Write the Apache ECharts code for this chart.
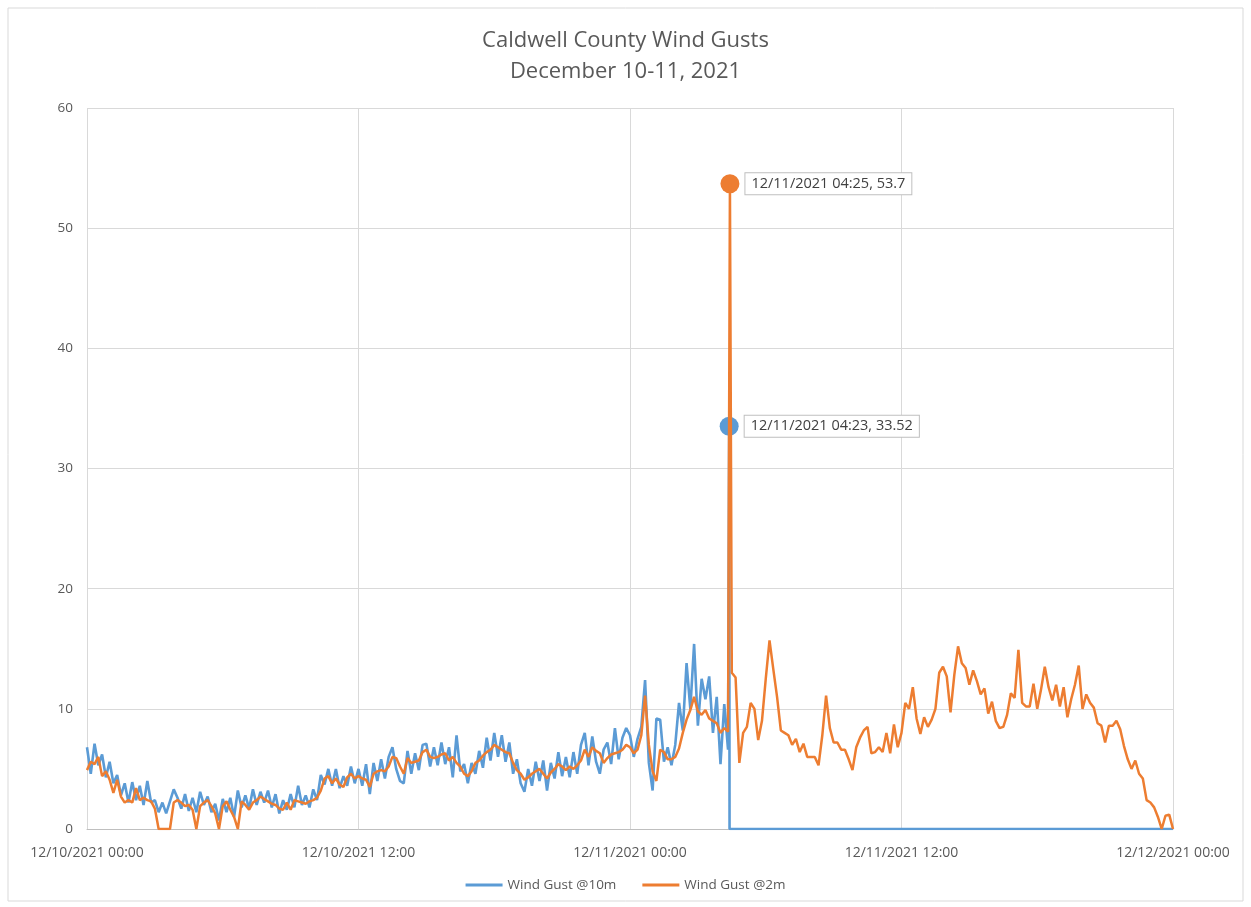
<!DOCTYPE html>
<html>
<head>
<meta charset="utf-8">
<script src="https://cdn.jsdelivr.net/npm/echarts@6/dist/echarts.min.js"></script>
<style>
  html, body { margin: 0; padding: 0; background: #fff; }
  #main { width: 1251px; height: 907px; }
</style>
</head>
<body>
<div id="main"></div>
<script>
// x values are minutes from 12/10/2021 00:00, one reading every 10 minutes
const tickLabels = ['12/10/2021 00:00', '12/10/2021 12:00', '12/11/2021 00:00', '12/11/2021 12:00', '12/12/2021 00:00'];

// Wind Gust @10m, 12/10 00:00 .. 12/11 04:20
const gust10m = [
  6.8, 4.6, 7.1, 5.3, 6.2, 4.3,
  5.6, 3.8, 4.5, 2.8, 3.8, 2.2,
  3.9, 2.4, 3.6, 2.0, 4.0, 2.2,
  2.4, 1.4, 2.2, 1.3, 2.3, 3.3,
  2.6, 1.7, 2.9, 1.5, 2.6, 1.4,
  3.1, 2.0, 2.7, 1.4, 2.1, 0.7,
  2.5, 1.4, 2.6, 1.0, 3.2, 1.8,
  2.8, 1.7, 3.3, 2.0, 3.1, 2.2,
  3.2, 1.8, 2.9, 1.3, 2.4, 1.6,
  2.9, 1.8, 3.6, 2.0, 2.8, 1.8,
  3.3, 2.4, 4.5, 3.7, 5.0, 3.6,
  5.0, 3.4, 4.4, 3.6, 5.2, 3.8,
  5.0, 3.6, 5.4, 2.9, 5.5, 4.0,
  5.8, 4.2, 6.0, 6.8, 5.0, 4.0,
  3.8, 6.5, 4.6, 6.3, 4.9, 7.0,
  7.1, 5.2, 6.8, 5.3, 7.2, 5.4,
  6.8, 4.3, 7.8, 4.8, 5.4, 3.8,
  5.5, 4.6, 6.5, 5.1, 7.6, 5.7,
  8.0, 6.0, 7.8, 5.6, 7.2, 4.6,
  5.8, 3.8, 3.1, 5.0, 3.6, 5.6,
  4.0, 5.7, 3.2, 5.5, 4.2, 6.4,
  4.4, 6.0, 4.3, 6.4, 4.6, 7.0,
  8.0, 5.3, 7.7, 5.6, 4.6, 6.6,
  7.2, 5.4, 8.4, 5.8, 7.6, 8.4,
  7.8, 6.0, 7.5, 8.5, 12.4, 5.5,
  3.2, 9.2, 9.1, 5.6, 6.8, 5.3,
  7.0, 10.5, 8.2, 13.8, 10.0, 15.4,
  8.6, 12.5, 10.8, 12.7, 8.0, 11.0,
  5.4, 10.4, 6.6
];
// readings after the 10m sensor stopped
const gust10mTail = [[1703, 33.52], [1704, 0], [2880, 0]];

// Wind Gust @2m, 12/10 00:00 .. 12/12 00:00
const gust2m = [
  4.9, 5.6, 5.4, 6.0, 4.4, 4.8,
  4.1, 3.0, 4.1, 2.7, 2.2, 2.4,
  2.2, 3.4, 2.4, 2.6, 2.4, 2.3,
  1.7, 0, 0, 0, 0, 2.2,
  2.4, 2.2, 1.9, 2.0, 1.6, 0,
  1.9, 2.2, 2.4, 1.9, 1.3, 0,
  1.9, 2.3, 1.6, 1.0, 0, 2.3,
  2.0, 1.6, 2.2, 2.4, 2.7, 2.5,
  2.3, 2.1, 2.0, 1.7, 1.6, 2.2,
  1.6, 2.4, 2.3, 2.2, 2.1, 2.3,
  2.4, 2.6, 3.2, 4.2, 4.4, 3.8,
  4.2, 3.7, 3.5, 4.3, 4.6, 4.2,
  4.4, 4.2, 4.1, 3.5, 4.6, 4.8,
  4.9, 4.8, 5.2, 6.0, 5.9, 5.2,
  4.6, 5.9, 5.5, 5.6, 5.7, 6.4,
  6.6, 6.0, 5.9, 6.0, 6.2, 6.3,
  5.7, 6.0, 5.5, 5.2, 4.6, 4.4,
  4.8, 5.5, 5.7, 6.1, 6.4, 6.6,
  7.0, 6.8, 6.6, 6.4, 6.3, 5.5,
  4.9, 4.6, 4.1, 4.3, 4.6, 4.8,
  5.0, 4.6, 4.2, 4.7, 5.0, 5.4,
  5.2, 4.9, 5.2, 5.0, 5.3, 5.7,
  6.6, 6.0, 6.8, 6.5, 6.3, 5.5,
  5.9, 6.2, 6.3, 6.4, 6.6, 7.0,
  6.8, 6.3, 6.6, 7.8, 11.1, 7.0,
  4.8, 4.0, 6.6, 6.4, 5.8, 5.8,
  6.0, 6.7, 8.0, 9.1, 9.9, 11.0,
  9.8, 9.5, 9.9, 9.2, 9.0, 8.8,
  8.0, 8.4, 8.1, 13.0, 12.6, 5.5,
  8.0, 8.5, 10.5, 10.0, 7.4, 9.0,
  12.5, 15.7, 13.3, 11.0, 8.2, 8.0,
  7.8, 7.0, 7.5, 6.4, 7.1, 6.0,
  6.0, 6.0, 5.3, 7.8, 11.1, 8.4,
  7.2, 7.2, 6.6, 6.6, 5.8, 4.9,
  6.8, 7.6, 8.2, 8.5, 6.3, 6.4,
  6.8, 6.4, 8.0, 6.3, 8.7, 6.8,
  8.0, 10.5, 10.0, 11.8, 9.2, 7.9,
  9.3, 8.5, 9.1, 10.0, 13.0, 13.5,
  12.7, 9.7, 12.8, 15.2, 13.8, 13.4,
  12.0, 13.2, 12.3, 11.2, 11.7, 9.6,
  10.6, 9.0, 8.4, 8.5, 9.5, 11.3,
  10.9, 14.9, 10.5, 10.2, 10.2, 12.1,
  10.0, 11.6, 13.5, 11.8, 10.7, 12.0,
  10.2, 11.8, 9.3, 10.8, 12.0, 13.6,
  10.0, 11.2, 10.5, 10.1, 8.8, 8.6,
  7.2, 8.6, 8.6, 9.0, 8.3, 6.9,
  5.8, 5.0, 5.7, 4.6, 4.2, 2.4,
  2.2, 1.8, 1.0, 0, 1.1, 1.2,
  0
];
const gust2mPeak = [1705, 53.7];

// labelled maxima
const peakNames = ['12/11/2021 04:23', '12/11/2021 04:25'];
const peakValues = [33.52, 53.7];
const peakMinutes = [1703, 1705];

const blue = '#5B9BD5';
const orange = '#ED7D31';
const textGray = '#595959';

function byMinute(a, b) { return a[0] - b[0]; }

const data10m = gust10m.map((v, i) => [i * 10, v]).concat(gust10mTail).sort(byMinute);
const data2m = gust2m.map((v, i) => [i * 10, v]).concat([gust2mPeak]).sort(byMinute);

function peakSeries(idx, color) {
  return {
    name: 'peak' + idx,
    type: 'scatter',
    symbolSize: 19,
    itemStyle: { color: color, opacity: 1 },
    data: [[peakMinutes[idx], peakValues[idx]]],
    label: {
      show: true,
      position: 'right',
      distance: 6,
      formatter: () => peakNames[idx] + ', ' + peakValues[idx],
      color: '#404040',
      fontSize: 14.5,
      fontFamily: 'Open Sans',
      backgroundColor: '#fff',
      borderColor: '#bfbfbf',
      borderWidth: 1,
      padding: [3, 6, 3, 6]
    },
    silent: true
  };
}

let myChart = echarts.init(document.getElementById('main'));

let options = {
  animation: false,
  backgroundColor: '#fff',
  textStyle: { fontFamily: 'Open Sans' },
  title: {
    text: 'Caldwell County Wind Gusts\nDecember 10-11, 2021',
    left: 'center',
    top: 20,
    textStyle: { color: textGray, fontSize: 22, fontWeight: 'normal', lineHeight: 31, fontFamily: 'Open Sans' }
  },
  graphic: [{
    type: 'rect',
    shape: { x: 8, y: 8, width: 1235, height: 893 },
    style: { fill: 'none', stroke: '#d9d9d9', lineWidth: 1 },
    silent: true
  }],
  legend: {
    data: ['Wind Gust @10m', 'Wind Gust @2m'],
    bottom: 10,
    left: 'center',
    icon: 'rect',
    itemWidth: 37,
    itemHeight: 3,
    itemGap: 26,
    textStyle: { color: textGray, fontSize: 13.5 }
  },
  grid: { left: 87, right: 78, top: 108, bottom: 78 },
  xAxis: {
    type: 'value',
    min: 0,
    max: 2880,
    interval: 720,
    axisLine: { show: true, lineStyle: { color: '#bfbfbf', width: 1 } },
    axisTick: { show: false },
    splitLine: { show: true, lineStyle: { color: '#d9d9d9', width: 1 } },
    axisLabel: {
      color: textGray,
      fontSize: 14,
      margin: 17,
      formatter: (v) => tickLabels[Math.round(v / 720)],
      showMinLabel: true,
      showMaxLabel: true
    }
  },
  yAxis: {
    type: 'value',
    min: 0,
    max: 60,
    interval: 10,
    axisLine: { show: false },
    axisTick: { show: false },
    splitLine: { show: true, lineStyle: { color: '#d9d9d9', width: 1 } },
    axisLabel: { color: textGray, fontSize: 13.5, margin: 14 }
  },
  series: [
    {
      name: 'Wind Gust @10m',
      type: 'line',
      data: data10m,
      showSymbol: false,
      itemStyle: { color: blue },
      lineStyle: { color: blue, width: 2.6 },
      silent: true
    },
    peakSeries(0, blue),
    {
      name: 'Wind Gust @2m',
      type: 'line',
      data: data2m,
      showSymbol: false,
      itemStyle: { color: orange },
      lineStyle: { color: orange, width: 2.5 },
      silent: true
    },
    peakSeries(1, orange)
  ]
};

myChart.setOption(options);
</script>
</body>
</html>
